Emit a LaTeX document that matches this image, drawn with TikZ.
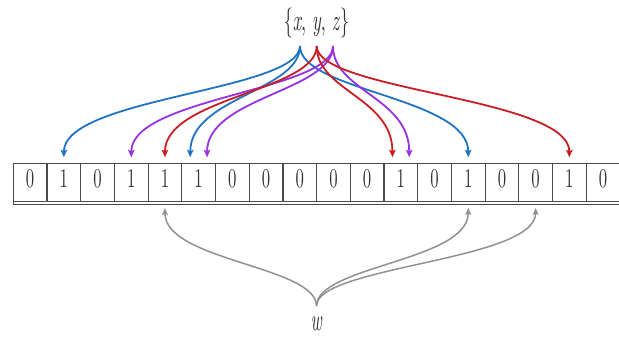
\documentclass[tikz,border=0pt]{standalone}
\usetikzlibrary{arrows.meta,calc}
\definecolor{hblue}{RGB}{30,115,195}
\definecolor{hred}{RGB}{200,30,35}
\definecolor{hpurple}{RGB}{150,50,230}
\definecolor{hgray}{RGB}{145,145,145}
\definecolor{cellline}{RGB}{75,75,75}
% set at 10pt (regular optical size) and stretch
\newcommand{\stretched}[3]{\scalebox{#1}[#2]{\fontsize{10}{12}\selectfont #3}}
\begin{document}
\begin{tikzpicture}[x=1pt,y=-1pt,
  cell/.style={draw=cellline, line width=1.2pt, minimum width=33.7pt, minimum height=38.4pt,
    inner sep=0pt, outer sep=0pt, text=black!80,
    text height=17.5pt, text depth=7pt},
  hashline/.style={line width=1.8pt, -{Stealth[length=7.5pt,width=6.5pt,inset=1.5pt]}},
  hx/.style={hashline, color=hblue},
  hy/.style={hashline, color=hred},
  hz/.style={hashline, color=hpurple},
  wline/.style={line width=1.5pt, color=hgray, -{Stealth[length=7pt,width=6pt,inset=1.5pt]}},
  lbl/.style={anchor=base, inner sep=0pt, text=black!80}
]
\useasboundingbox (0,0) rectangle (619,345);

% bit array
\foreach \b [count=\i from 0] in {0,1,0,1,1,1,0,0,0,0,0,1,0,1,0,0,1,0}{
  \node[cell] (c\i) at ({13.3+(\i+0.5)*33.7}, 182.5) {\stretched{1.67}{2.7}{\b}};
}
\draw[cellline, line width=1.2pt] ($(c0.south west)+(0,2.6)$) -- ($(c17.south east)+(0,2.6)$);
\draw[cellline, line width=1.2pt] (c0.south west) -- ($(c0.south west)+(0,2.6)$);

% labels
\node[lbl] (set) at (316.5,30.5) {\stretched{1.8}{3}{\{\textit{x}, \textit{y}, \textit{z}\}}};
\node[lbl] (w) at (316.5,330) {\stretched{1.7}{3.1}{\textit{w}}};

% sources
\coordinate (sx) at (300,46);
\coordinate (sy) at (316.7,46);
\coordinate (sz) at (333,46);
\coordinate (ws) at (316.5,306);

% targets (top)
\coordinate (tx1) at ($(c1.north)+(0,-6)$);
\coordinate (tx5) at ($(c5.north)+(-8.4,-6)$);
\coordinate (tx13) at ($(c13.north)+(0,-6)$);
\coordinate (ty4) at ($(c4.north)+(0,-6)$);
\coordinate (ty11) at ($(c11.north)+(-8.4,-6)$);
\coordinate (ty16) at ($(c16.north)+(0,-6)$);
\coordinate (tz3) at ($(c3.north)+(0,-6)$);
\coordinate (tz5) at ($(c5.north)+(8.4,-6)$);
\coordinate (tz11) at ($(c11.north)+(8.4,-6)$);
% targets (bottom)
\coordinate (tw4) at ($(c4.south)+(0,6.3)$);
\coordinate (tw13) at ($(c13.south)+(0,6.3)$);
\coordinate (tw15) at ($(c15.south)+(0,6.3)$);

% hash connectors
\foreach \t in {tx1,tx5,tx13}
  \draw[hx] (sx) .. controls +(0,45) and +(0,-60) .. (\t);
\foreach \t in {tz3,tz5,tz11}
  \draw[hz] (sz) .. controls +(0,45) and +(0,-60) .. (\t);
\foreach \t in {ty4,ty11,ty16}
  \draw[hy] (sy) .. controls +(0,45) and +(0,-60) .. (\t);

% w connectors
\foreach \t in {tw4,tw13,tw15}
  \draw[wline] (ws) .. controls +(0,-40) and +(0,53) .. (\t);
\end{tikzpicture}
\end{document}
